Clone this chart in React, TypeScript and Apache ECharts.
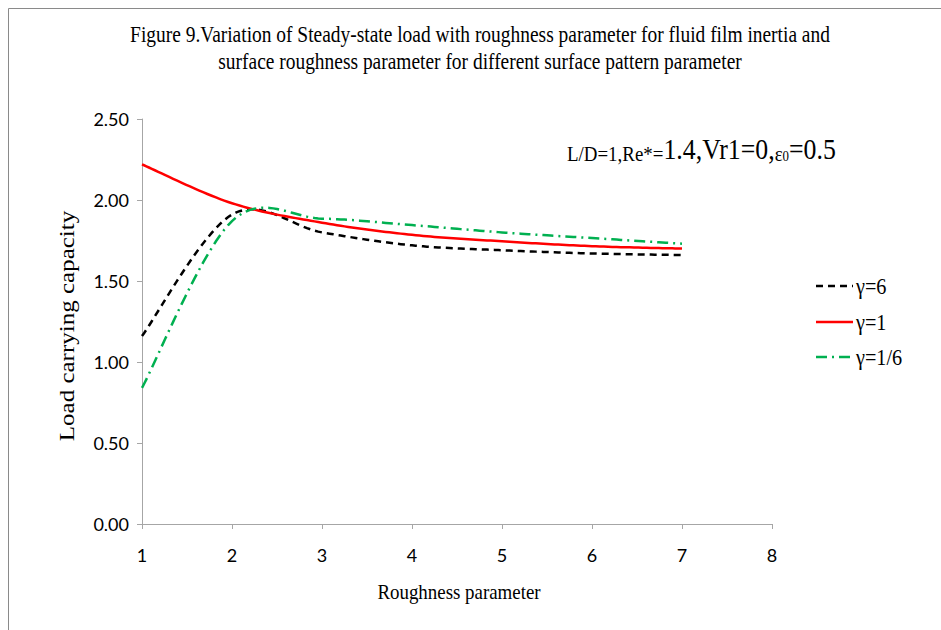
import React, { useEffect, useRef } from "react";
import * as echarts from "echarts";

const roughness = [1, 2, 3, 4, 5, 6, 7];
const gamma6 = [1.16, 1.91, 1.8, 1.72, 1.69, 1.67, 1.66];
const gamma1 = [2.22, 1.98, 1.86, 1.785, 1.745, 1.715, 1.7];
const gamma16 = [0.84, 1.87, 1.885, 1.845, 1.8, 1.765, 1.73];
const seriesNames = ["γ=6", "γ=1", "γ=1/6"];
const seriesColors = ["#000000", "#ff0000", "#00b050"];
const seriesDash: (number[] | null)[] = [[7, 5], null, [11, 5, 2, 5]];
const titleLines = [
  "Figure 9.Variation of Steady-state load with roughness parameter for fluid film inertia and",
  "surface roughness parameter for different surface pattern parameter",
];
const xTitle = "Roughness parameter";
const yTitle = "Load carrying capacity";

const serif = "'Liberation Serif', 'Times New Roman', serif";
const sans = "Lato, 'Open Sans', sans-serif";

// Excel-like smoothed curve (Catmull-Rom style Bezier) in pixel space
function smoothPoints(p: number[][]): number[][] {
  const out: number[][] = [];
  const n = p.length;
  for (let i = 0; i < n - 1; i++) {
    const p0 = p[i];
    const p1 = p[i + 1];
    const pm = p[i - 1] || p0;
    const pn = p[i + 2] || p1;
    const c1 = [p0[0] + (p1[0] - pm[0]) / 6, p0[1] + (p1[1] - pm[1]) / 6];
    const c2 = [p1[0] - (pn[0] - p0[0]) / 6, p1[1] - (pn[1] - p0[1]) / 6];
    const steps = 24;
    for (let s = i === 0 ? 0 : 1; s <= steps; s++) {
      const t = s / steps;
      const u = 1 - t;
      const a = u * u * u, b = 3 * u * u * t, c = 3 * u * t * t, d = t * t * t;
      out.push([
        a * p0[0] + b * c1[0] + c * c2[0] + d * p1[0],
        a * p0[1] + b * c1[1] + c * c2[1] + d * p1[1],
      ]);
    }
  }
  return out;
}

export default function App() {
  const ref = useRef<HTMLDivElement>(null);
  useEffect(() => {
    if (!ref.current) return;
    const chart = echarts.init(ref.current, null, { renderer: "svg" });
    const allSeries = [gamma6, gamma1, gamma16];
    const makeSeries = (k: number) => ({
      name: seriesNames[k],
      type: "custom",
      data: roughness.map((x, i) => [x, allSeries[k][i]]),
      encode: { x: 0, y: 1 },
      renderItem: (params: any, api: any) => {
        if (params.dataIndex !== 0) return null;
        const pts = roughness.map((x, i) => api.coord([x, allSeries[k][i]]));
        return {
          type: "polyline",
          shape: { points: smoothPoints(pts) },
          style: {
            fill: "none",
            stroke: seriesColors[k],
            lineWidth: 2.5,
            lineDash: seriesDash[k] || undefined,
          },
        };
      },
    });

    const legendRows = [286, 322, 357];
    const legendGraphics: any[] = [];
    seriesNames.forEach((nm, k) => {
      legendGraphics.push({
        type: "line",
        silent: true,
        shape: { x1: 816, y1: legendRows[k], x2: 853, y2: legendRows[k] },
        style: {
          stroke: seriesColors[k],
          lineWidth: 2.5,
          lineDash: seriesDash[k] || undefined,
        },
      });
      legendGraphics.push({
        type: "text",
        silent: true,
        x: 856,
        y: legendRows[k] + 1,
        scaleX: 0.88,
        style: {
          text: nm,
          fontFamily: serif,
          fontSize: 23,
          fill: "#000",
          align: "left",
          verticalAlign: "middle",
        },
      });
    });

    chart.setOption({
      animation: false,
      backgroundColor: "#ffffff",
      graphic: [
        {
          type: "rect",
          silent: true,
          shape: { x: 8.5, y: 8.5, width: 1000, height: 1000 },
          style: { fill: "none", stroke: "#8a8a8a", lineWidth: 1 },
        },
        {
          type: "text",
          silent: true,
          x: 480,
          y: 21,
          scaleX: 0.81,
          style: {
            text: titleLines.join("\n"),
            fontFamily: serif,
            fontSize: 24,
            lineHeight: 27,
            fill: "#000",
            align: "center",
            verticalAlign: "top",
          },
        },
        {
          type: "text",
          silent: true,
          x: 567,
          y: 164,
          scaleX: 0.86,
          style: {
            text: "{s|L/D=1,Re*=}{b|1.4,Vr1=0,}{s|ε}{t|0}{b|=0.5}",
            align: "left",
            verticalAlign: "bottom",
            rich: {
              s: { fontFamily: serif, fontSize: 22, fill: "#000", verticalAlign: "bottom" },
              b: { fontFamily: serif, fontSize: 30, fill: "#000", verticalAlign: "bottom" },
              t: { fontFamily: serif, fontSize: 15, fill: "#000", verticalAlign: "bottom" },
            },
          },
        },
        {
          type: "text",
          silent: true,
          x: 459,
          y: 591,
          scaleX: 0.86,
          style: {
            text: xTitle,
            fontFamily: serif,
            fontSize: 22,
            fill: "#000",
            align: "center",
            verticalAlign: "middle",
          },
        },
        {
          type: "text",
          silent: true,
          x: 67,
          y: 326,
          rotation: Math.PI / 2,
          scaleY: 0.82,
          style: {
            text: yTitle,
            fontFamily: serif,
            fontSize: 25,
            fill: "#000",
            align: "center",
            verticalAlign: "middle",
          },
        },
        ...legendGraphics,
      ],
      grid: { left: 142, right: 169, top: 119, bottom: 106 },
      xAxis: {
        type: "value",
        min: 1,
        max: 8,
        interval: 1,
        axisLine: { lineStyle: { color: "#a6a6a6", width: 1 } },
        axisTick: { show: true, length: 5, lineStyle: { color: "#a6a6a6" } },
        axisLabel: { fontFamily: sans, fontSize: 18, color: "#000", margin: 22 },
        splitLine: { show: false },
      },
      yAxis: {
        type: "value",
        min: 0,
        max: 2.5,
        interval: 0.5,
        axisLine: { show: true, lineStyle: { color: "#a6a6a6", width: 1 } },
        axisTick: { show: true, length: 5, lineStyle: { color: "#a6a6a6" } },
        axisLabel: {
          fontFamily: sans,
          fontSize: 18,
          color: "#000",
          margin: 13,
          formatter: (v: number) => v.toFixed(2),
        },
        splitLine: { show: false },
      },
      series: [makeSeries(0), makeSeries(1), makeSeries(2)],
    });
    return () => chart.dispose();
  }, []);
  return (
    <div
      ref={ref}
      style={{ position: "absolute", left: 0, top: 0, width: 941, height: 630 }}
    />
  );
}
